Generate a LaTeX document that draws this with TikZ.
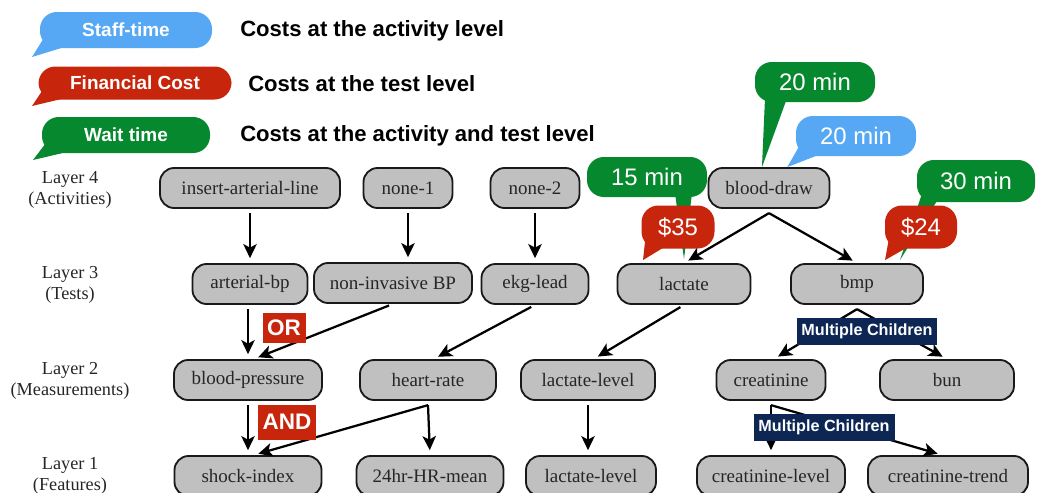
\documentclass[tikz,border=0pt]{standalone}
\usepackage{fontspec}
\setmainfont{Liberation Serif}
\setsansfont{Liberation Sans}
\usepackage{xcolor}
\usepackage{tikz}
\usetikzlibrary{arrows.meta, positioning}

\definecolor{staffblue}{HTML}{56A8F5}
\definecolor{costred}{HTML}{C8260C}
\definecolor{waitgreen}{HTML}{06882E}
\definecolor{navytag}{HTML}{0D2654}
\definecolor{nodegray}{HTML}{C0C0C0}

\begin{document}
\begin{tikzpicture}[x=0.025cm, y=-0.025cm,
        wd/.style={minimum width=#1*0.025cm},
        ht/.style={minimum height=#1*0.025cm},
        item/.style={draw=black!90, line width=1.3pt, fill=nodegray, rounded corners=10pt, inner sep=0pt, ht=40, text=black!85, font=\fontsize{13.5}{15}\selectfont},
        layertxt/.style={align=center, text=black!85, font=\fontsize{13}{15}\selectfont},
        link/.style={-{Stealth[length=10pt, width=9.5pt, inset=2.5pt]}, line width=1.6pt, shorten <=3pt, shorten >=3.5pt},
        bubble/.style={fill=#1, text=white, rounded corners=12pt, inner sep=0pt, font=\sffamily\fontsize{17}{19}\selectfont},
        keybubble/.style={bubble=#1, font=\sffamily\bfseries\fontsize{13.5}{15}\selectfont},
        note/.style={anchor=west, inner xsep=0pt, font=\sffamily\bfseries\fontsize{15.7}{18}\selectfont},
        flag/.style={fill=#1, text=white, inner sep=0pt, font=\sffamily\bfseries\fontsize{16}{18}\selectfont}]
        \useasboundingbox (0,0) rectangle (1040,493);

        % Legenda
        \node[keybubble=staffblue, wd=172, ht=36] (staff) at (126,30) {Staff-time};
        \coordinate (staff-tip) at (32,57);
        \fill[staffblue] ([shift={(4,-10)}]staff.south west) -- (staff-tip) -- ([shift={(24,-1)}]staff.south west) -- cycle;
        \node[note] (staff-note) at (240,31) {Costs at the activity level};

        \node[keybubble=costred, wd=193, ht=33] (cost) at (135,83) {Financial Cost};
        \coordinate (cost-tip) at (32,106);
        \fill[costred] ([shift={(4,-9)}]cost.south west) -- (cost-tip) -- ([shift={(24,-1)}]cost.south west) -- cycle;
        \node[note] (cost-note) at (248,84) {Costs at the test level};

        \node[keybubble=waitgreen, wd=168, ht=36] (wait) at (126,135) {Wait time};
        \coordinate (wait-tip) at (33,160);
        \fill[waitgreen] ([shift={(4,-10)}]wait.south west) -- (wait-tip) -- ([shift={(24,-1)}]wait.south west) -- cycle;
        \node[note] (wait-note) at (240,136) {Costs at the activity and test level};

        % Camadas
        \node[layertxt] (l4) at (70,190) {Layer 4\\(Activities)};
        \node[layertxt] (l3) at (70,285) {Layer 3\\(Tests)};
        \node[layertxt] (l2) at (70,381) {Layer 2\\(Measurements)};
        \node[layertxt] (l1) at (70,476) {Layer 1\\(Features)};

        % Camada 4
        \node[item, wd=180] (ial) at (250,188) {insert-arterial-line};
        \node[item, wd=89] (none1) at (408,188) {none-1};
        \node[item, wd=89] (none2) at (535,188) {none-2};
        \node[item, wd=121] (bdraw) at (769,188) {blood-draw};

        % Camada 3
        \node[item, wd=115] (abp) at (250,284) {arterial-bp};
        \node[item, wd=158] (nibp) at (393,283) {non-invasive BP};
        \node[item, wd=107] (ekg) at (535,284) {ekg-lead};
        \node[item, wd=133] (lac) at (684,284) {lactate};
        \node[item, wd=132] (bmp) at (857,284) {bmp};

        % Camada 2
        \node[item, wd=148] (bp) at (248,380) {blood-pressure};
        \node[item, wd=136] (hr) at (428,380) {heart-rate};
        \node[item, wd=134] (lvl2) at (588,380) {lactate-level};
        \node[item, wd=109] (crea) at (771,380) {creatinine};
        \node[item, wd=134] (bun) at (947,380) {bun};

        % Camada 1
        \node[item, wd=147] (shock) at (248,476) {shock-index};
        \node[item, wd=147] (hrmean) at (430,476) {24hr-HR-mean};
        \node[item, wd=130] (lvl1) at (591,476) {lactate-level};
        \node[item, wd=148] (creal) at (771,476) {creatinine-level};
        \node[item, wd=160] (creat) at (948,476) {creatinine-trend};

        % Ligacoes
        \draw[link] (ial) -- (ial |- abp.north);
        \draw[link] (none1) -- (none1 |- nibp.north);
        \draw[link] (none2) -- (ekg);
        \draw[link, shorten <=0pt] ([yshift=-3pt]bdraw.south) -- (lac.north);
        \draw[link, shorten <=0pt] ([yshift=-3pt]bdraw.south) -- (bmp.north);
        \draw[link] (bp |- abp.south) -- (bp);
        \draw[link] (nibp.south) -- ([xshift=4pt]bp.north);
        \draw[link] (ekg.south) -- ([xshift=4pt]hr.north);
        \draw[link] (lac.south) -- ([xshift=4pt]lvl2.north);
        \draw[link, shorten <=0pt] ([yshift=-3pt]bmp.south) -- ([xshift=2pt]crea.north);
        \draw[link, shorten <=0pt] ([yshift=-3pt]bmp.south) -- (bun.north);
        \draw[link] (bp) -- (shock);
        \draw[link, shorten <=0pt] ([yshift=-3pt]hr.south) -- ([xshift=4pt]shock.north);
        \draw[link, shorten <=0pt] ([yshift=-3pt]hr.south) -- (hrmean.north);
        \draw[link] (lvl2) -- (lvl2 |- lvl1.north);
        \draw[link, shorten <=0pt] ([yshift=-3pt]crea.south) -- (creal.north);
        \draw[link, shorten <=0pt] ([yshift=-3pt]crea.south) -- ([xshift=-4pt]creat.north);

        % Etiquetas
        \node[flag=costred, wd=43, ht=30] (or) at (284,328) {OR};
        \node[flag=costred, wd=58, ht=35] (and) at (287,422) {AND};
        \node[flag=navytag, wd=140, ht=27, font=\sffamily\bfseries\fontsize{11.5}{13}\selectfont] (multi1) at (867,331) {Multiple Children};
        \node[flag=navytag, wd=141, ht=27, font=\sffamily\bfseries\fontsize{11.5}{13}\selectfont] (multi2) at (824,427) {Multiple Children};

        % Custos
        \node[bubble=waitgreen, wd=120, ht=40] (wait-bd) at (815,82) {20 min};
        \fill[waitgreen] ([shift={(-50,-4)}]wait-bd.south) -- ([xshift=-5pt]bdraw.north) -- ([shift={(-28,-4)}]wait-bd.south) -- cycle;
        \node[bubble=staffblue, wd=120, ht=40] (staff-bd) at (856,136) {20 min};
        \fill[staffblue] ([shift={(4,-11)}]staff-bd.south west) -- ([xshift=13pt]bdraw.north) -- ([shift={(22,-1)}]staff-bd.south west) -- cycle;

        \node[bubble=waitgreen, wd=120, ht=40] (wait-lac) at (647,177) {15 min};
        \fill[waitgreen] ([shift={(28,-4)}]wait-lac.south) -- ([yshift=3pt]lac.north) -- ([shift={(45,-4)}]wait-lac.south) -- cycle;
        \node[bubble=costred, wd=73, ht=43] (cost-lac) at (678,227) {\$35};
        \fill[costred] ([shift={(4,-9)}]cost-lac.south west) -- ([shift={(-41,-3)}]lac.north) -- ([shift={(22,-1)}]cost-lac.south west) -- cycle;

        \node[bubble=waitgreen, wd=118, ht=42] (wait-bmp) at (976,181) {30 min};
        \fill[waitgreen] ([shift={(5,-8)}]wait-bmp.south west) -- ([shift={(43,-3)}]bmp.north) -- ([shift={(20,-1)}]wait-bmp.south west) -- cycle;
        \node[bubble=costred, wd=72, ht=43] (cost-bmp) at (921,227) {\$24};
        \fill[costred] ([shift={(4,-9)}]cost-bmp.south west) -- ([shift={(28,-3)}]bmp.north) -- ([shift={(22,-1)}]cost-bmp.south west) -- cycle;
    \end{tikzpicture}
\end{document}
